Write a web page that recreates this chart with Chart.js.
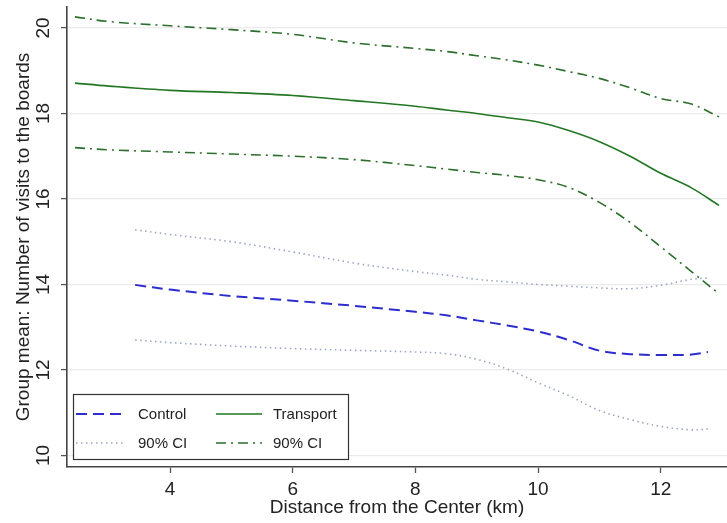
<!DOCTYPE html>
<html>
<head>
<meta charset="utf-8">
<script src="https://cdn.jsdelivr.net/npm/chart.js@4.4.1/dist/chart.umd.min.js"></script>
<style>
  html, body { margin: 0; padding: 0; background: #fff; }
  #wrap { width: 727px; height: 523px; position: relative; }
</style>
</head>
<body>
<div id="wrap"><canvas id="grafico"></canvas></div>
<script>
// distance grid (km) and smoothed group means
const distTransport = [2.45, 3, 4, 5, 6, 7, 8, 8.5, 9, 9.5, 10, 10.5, 11, 11.5, 12, 12.5, 12.95];
const transportMean  = [18.71, 18.64, 18.54, 18.49, 18.42, 18.3, 18.17, 18.08, 18.0, 17.9, 17.8, 17.6, 17.34, 17.0, 16.6, 16.26, 15.85];
const transportUpper = [20.26, 20.15, 20.05, 19.96, 19.85, 19.65, 19.52, 19.45, 19.35, 19.25, 19.13, 18.98, 18.82, 18.6, 18.35, 18.22, 17.92];
const transportLower = [17.2, 17.15, 17.1, 17.05, 17.0, 16.92, 16.78, 16.7, 16.62, 16.55, 16.45, 16.27, 15.92, 15.45, 14.88, 14.3, 13.78];

const distControl = [3.43, 4, 5, 6, 7, 8, 8.5, 9, 9.5, 10, 10.5, 11, 11.5, 12, 12.5, 12.77];
const controlMean  = [13.99, 13.88, 13.73, 13.62, 13.5, 13.36, 13.28, 13.16, 13.04, 12.9, 12.7, 12.45, 12.37, 12.35, 12.36, 12.42];
const controlUpper = [15.28, 15.17, 15.0, 14.76, 14.5, 14.3, 14.22, 14.12, 14.06, 14.0, 13.96, 13.92, 13.9, 13.98, 14.12, 14.15];
const controlLower = [12.7, 12.64, 12.56, 12.5, 12.46, 12.42, 12.38, 12.25, 12.02, 11.7, 11.4, 11.05, 10.84, 10.68, 10.6, 10.62];

const yTickLabels = [10, 12, 14, 16, 18, 20];
const legendLabels = ['Control', 'Transport', '90% CI', '90% CI'];

const FONT = '"Liberation Sans", Arial, sans-serif';

const azul = 'rgb(45,45,205)';
const azulCI = 'rgba(140,150,185,0.85)';
const verde = 'rgb(35,118,35)';
const verdeCI = 'rgb(45,110,45)';

function toPoints(xs, ys) {
  return xs.map((x, i) => ({ x: x, y: ys[i] }));
}

// line styles shared by the plot and the legend keys
const estilos = [
  { color: azul, width: 2, dash: [11, 6] },
  { color: verde, width: 1.6, dash: [] },
  { color: azulCI, width: 1.6, dash: [1.5, 3.5] },
  { color: verdeCI, width: 1.6, dash: [10, 5, 2, 5] }
];

function serie(label, data, st) {
  return {
    label: label,
    data: data,
    borderColor: st.color,
    borderWidth: st.width,
    borderDash: st.dash,
    pointRadius: 0,
    fill: false,
    tension: 0.35
  };
}

// rotated y tick labels, Stata style
const yTicksPlugin = {
  id: 'yTicksRot',
  afterDraw(chart) {
    const ctx = chart.ctx;
    const y = chart.scales.y;
    ctx.save();
    ctx.font = '19px ' + FONT;
    ctx.fillStyle = '#222';
    ctx.textAlign = 'center';
    ctx.textBaseline = 'middle';
    yTickLabels.forEach(v => {
      const py = y.getPixelForValue(v);
      ctx.save();
      ctx.translate(44, py);
      ctx.rotate(-Math.PI / 2);
      ctx.fillText(String(v), 0, 0);
      ctx.restore();
    });
    ctx.restore();
  }
};

// legend box in the lower left corner of the plot
const legendPlugin = {
  id: 'leyenda',
  afterDraw(chart) {
    const ctx = chart.ctx;
    const left = 73, top = 394, w = 275, h = 65;
    ctx.save();
    ctx.fillStyle = '#fff';
    ctx.fillRect(left, top, w, h);
    ctx.strokeStyle = '#333';
    ctx.lineWidth = 1.2;
    ctx.strokeRect(left + 0.5, top + 0.5, w, h);
    ctx.font = '15px ' + FONT;
    ctx.fillStyle = '#222';
    ctx.textBaseline = 'middle';
    const cols = [{ x0: 76, x1: 126, tx: 138 }, { x0: 216, x1: 262, tx: 273 }];
    const rows = [414, 443];
    legendLabels.forEach((lab, i) => {
      const c = cols[i % 2];
      const r = rows[Math.floor(i / 2)];
      const st = estilos[i];
      ctx.save();
      ctx.strokeStyle = st.color;
      ctx.lineWidth = st.width;
      ctx.setLineDash(st.dash);
      ctx.beginPath();
      ctx.moveTo(c.x0, r);
      ctx.lineTo(c.x1, r);
      ctx.stroke();
      ctx.restore();
      ctx.fillText(lab, c.tx, r + 1);
    });
    ctx.restore();
  }
};

const ctx = document.getElementById('grafico').getContext('2d');
new Chart(ctx, {
  type: 'line',
  data: {
    datasets: [
      serie('Control', toPoints(distControl, controlMean), estilos[0]),
      serie('90% CI', toPoints(distControl, controlUpper), estilos[2]),
      serie('90% CI', toPoints(distControl, controlLower), estilos[2]),
      serie('Transport', toPoints(distTransport, transportMean), estilos[1]),
      serie('90% CI', toPoints(distTransport, transportUpper), estilos[3]),
      serie('90% CI', toPoints(distTransport, transportLower), estilos[3])
    ]
  },
  options: {
    responsive: true,
    maintainAspectRatio: false,
    animation: false,
    layout: { padding: { left: 8, top: 7, right: 0, bottom: 0 } },
    plugins: {
      legend: { display: false },
      tooltip: { enabled: false }
    },
    scales: {
      x: {
        type: 'linear',
        min: 2.32,
        max: 13.08,
        afterFit(scale) { scale.height = 56; },
        ticks: {
          stepSize: 2,
          includeBounds: false,
          padding: 5,
          color: '#222',
          font: { family: FONT, size: 19 },
          maxRotation: 0
        },
        grid: {
          drawOnChartArea: false,
          tickLength: 6,
          tickColor: '#555',
          tickWidth: 1.3
        },
        border: { color: '#444', width: 1.6 },
        title: {
          display: true,
          text: 'Distance from the Center (km)',
          color: '#222',
          font: { family: FONT, size: 19 },
          padding: { top: 0, bottom: 4 }
        }
      },
      y: {
        type: 'linear',
        min: 9.73,
        max: 20.49,
        afterFit(scale) { scale.width = 59; },
        ticks: {
          display: false,
          stepSize: 2,
          includeBounds: false
        },
        grid: {
          color: '#ebebeb',
          lineWidth: 1.2,
          tickLength: 6,
          tickColor: '#555',
          tickWidth: 1.3
        },
        border: { color: '#444', width: 1.6 },
        title: {
          display: true,
          text: 'Group mean: Number of visits to the boards',
          color: '#222',
          font: { family: FONT, size: 19 },
          padding: { top: 4, bottom: 0 }
        }
      }
    }
  },
  plugins: [yTicksPlugin, legendPlugin]
});
</script>
</body>
</html>
